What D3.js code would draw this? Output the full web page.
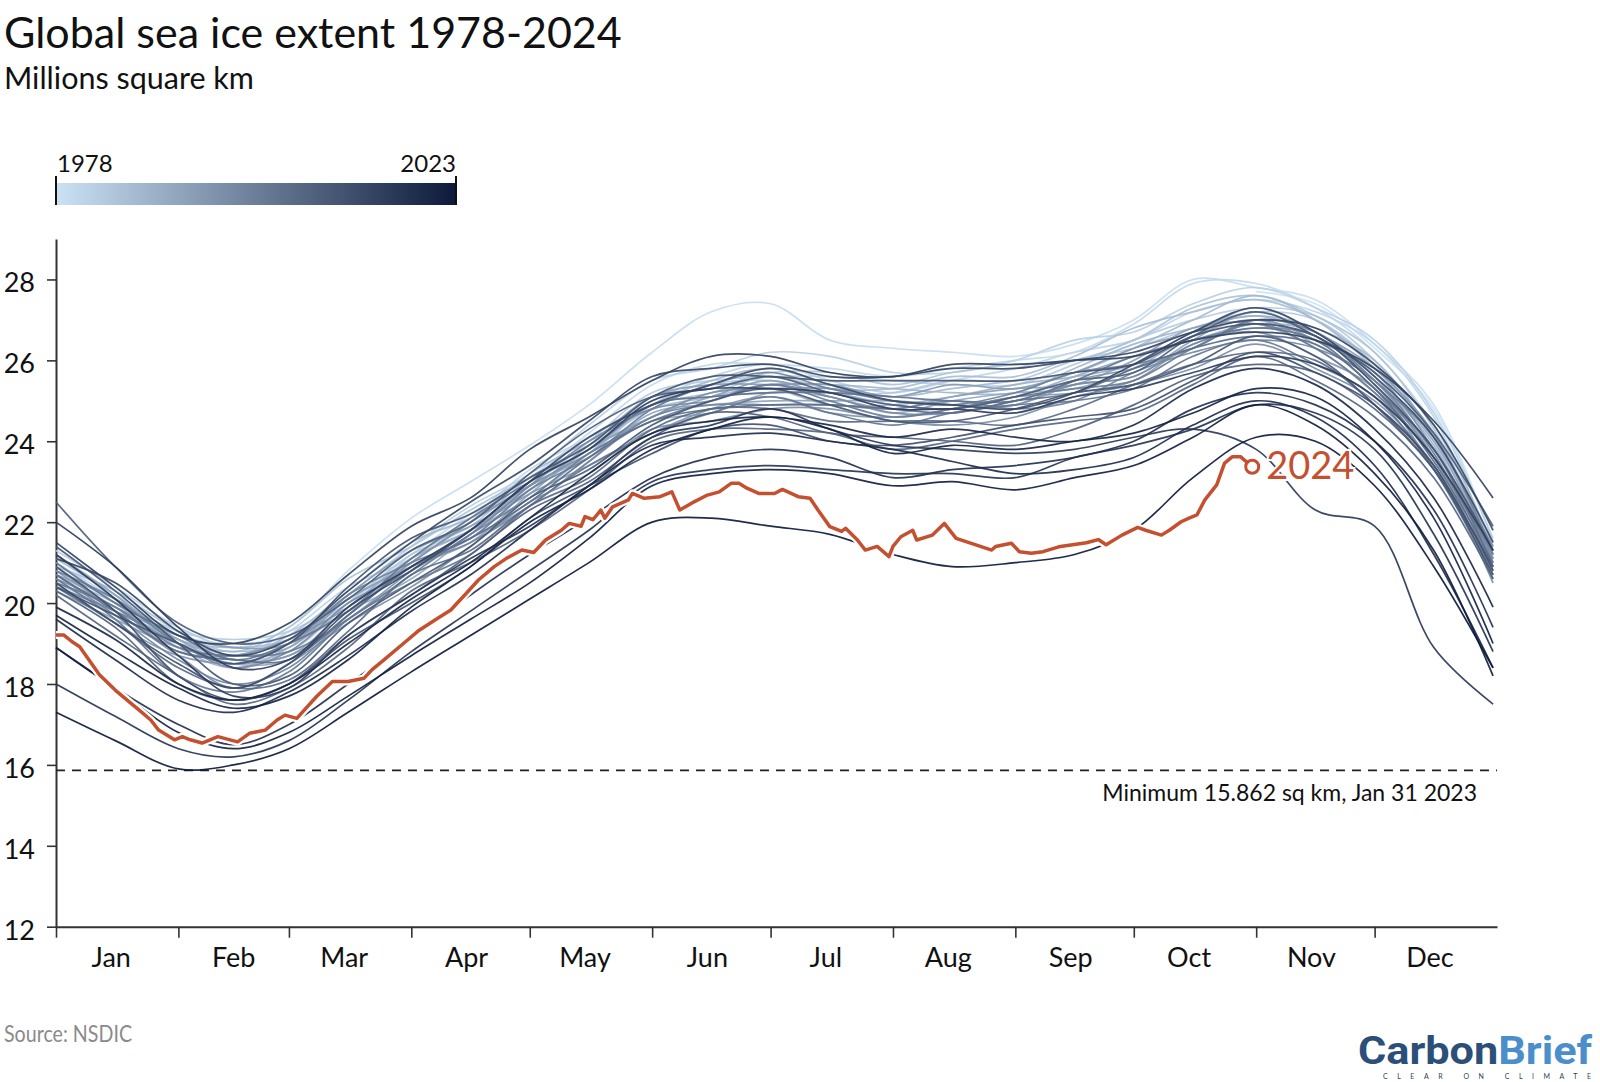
<!DOCTYPE html>
<html><head><meta charset="utf-8">
<script src="https://cdn.jsdelivr.net/npm/d3@7"></script>
<style>
body{margin:0;background:#fff;}
svg text{font-family:Lato,"Noto Sans",sans-serif;}
</style></head><body>
<svg id="chart" width="1600" height="1082"></svg>
<script>
// ---------- DATA ----------
const sampleDays = [0,15,31,45,59,74,90,105,120,135,151,166,181,196,212,227,243,258,273,288,304,319,334,349,364];
const monthLabels = ["Jan","Feb","Mar","Apr","May","Jun","Jul","Aug","Sep","Oct","Nov","Dec"];
const monthStarts = [0,31,59,90,120,151,181,212,243,273,304,334];
const monthMids = [14,45,73,104,134,165,195,226,257,287,318,348];
const yTicks = [12,14,16,18,20,22,24,26,28];
const minimumValue = 15.862;
const minimumLabel = "Minimum 15.862 sq km, Jan 31 2023";

const y1978 = [null,null,null,null,null,null,null,null,null,null,null,null,null,null,null,null,null,null,null,null,27.7,27.4,26.3,24.8,21.5];
const y1979 = [21.1,20.2,19.4,18.9,19.4,20.8,22.1,23.0,23.9,24.9,26.2,27.2,27.4,26.5,26.3,26.2,26.1,26.4,27.0,28.0,27.8,27.5,26.4,24.9,21.5];
const y1980 = [20.9,20.0,19.2,19.0,19.2,20.0,21.2,22.2,23.1,24.2,25.4,25.9,25.9,25.8,25.6,25.8,26.0,26.2,26.9,27.9,27.9,27.3,26.2,24.4,21.4];
const y1981 = [21.0,20.1,19.0,18.7,19.3,20.4,21.1,22.1,23.3,24.1,25.0,25.6,25.9,25.5,25.2,25.5,25.8,26.2,26.5,27.2,27.5,27.2,26.4,24.6,21.2];
const y1982 = [21.3,20.4,19.4,18.9,19.1,20.2,21.4,22.4,23.2,24.4,25.5,25.8,26.2,26.1,25.7,25.7,26.0,26.5,26.7,27.4,27.8,27.3,26.5,24.7,21.6];
const y1983 = [20.8,20.1,19.3,19.1,19.3,20.1,21.0,22.0,22.9,24.0,25.2,25.5,25.6,25.6,25.5,25.4,25.4,25.9,26.5,27.0,27.3,27.1,26.0,24.1,21.1];
const y1984 = [20.5,19.8,19.1,18.6,18.8,20.0,21.2,21.9,23.1,23.9,24.8,25.4,25.5,25.2,25.2,25.5,25.5,26.0,26.3,26.8,27.2,27.0,25.9,24.0,20.8];
const y1985 = [20.9,20.3,19.3,18.8,19.4,20.6,21.4,22.3,23.1,23.8,25.1,25.3,25.7,25.7,25.4,25.7,25.9,26.0,26.5,27.3,27.6,27.1,26.2,24.3,21.3];
const y1986 = [21.1,20.2,19.1,18.9,19.1,19.9,21.1,21.8,23.0,24.1,24.9,25.2,25.6,25.3,25.3,25.6,25.6,26.1,26.8,27.2,27.5,27.0,25.8,24.2,21.1];
const y1987 = [20.7,20.0,19.2,18.7,19.2,20.3,21.5,22.1,22.9,23.7,24.9,25.5,25.8,25.4,25.1,25.3,25.5,25.7,26.3,27.0,27.6,27.0,25.9,24.4,21.4];
const y1988 = [20.6,19.7,19.0,18.8,19.0,19.8,21.0,22.0,23.2,24.0,24.8,25.1,25.4,25.4,25.3,25.2,25.2,25.8,26.4,26.8,27.1,26.8,26.0,24.1,21.0];
const y1989 = [21.0,20.0,18.9,18.4,18.9,20.1,20.9,21.6,22.8,23.8,24.6,25.2,25.3,24.9,24.9,25.1,25.4,25.6,25.9,26.7,27.1,26.6,25.5,23.9,20.9];
const y1990 = [20.4,19.8,19.1,18.6,18.7,19.9,21.1,21.8,22.6,23.7,24.9,25.1,25.2,25.2,24.9,24.8,25.1,25.6,26.1,26.5,26.9,26.7,25.6,23.7,21.1];
const y1991 = [20.7,20.1,19.1,18.5,19.0,19.8,20.6,21.7,22.9,23.6,24.5,24.7,25.2,25.1,24.7,25.0,25.2,25.3,25.8,26.6,27.0,26.4,25.5,24.0,21.2];
const y1992 = [21.2,20.2,19.0,18.5,18.6,19.7,20.9,21.6,22.4,23.5,24.7,24.9,25.0,25.0,25.0,24.9,24.9,25.4,25.6,26.5,27.2,26.6,25.5,23.6,20.7];
const y1993 = [20.3,19.6,18.9,18.7,18.9,20.1,20.9,21.5,22.7,23.8,24.6,25.1,25.5,25.1,24.8,25.1,25.3,25.4,26.0,26.8,26.9,26.3,25.2,23.8,21.0];
const y1994 = [20.8,19.9,19.2,18.9,19.0,20.2,21.3,21.9,22.8,23.9,25.1,25.4,25.4,25.4,25.1,25.4,25.3,25.7,26.3,26.7,27.3,26.7,25.8,24.2,21.2];
const y1995 = [20.5,19.5,18.7,18.5,18.7,19.6,20.8,21.8,22.7,23.4,24.2,24.8,25.1,24.7,24.6,24.8,25.1,25.2,25.5,26.4,26.7,26.1,25.3,23.3,20.7];
const y1996 = [20.6,19.9,18.8,18.7,19.1,19.9,21.0,22.0,22.9,23.7,24.6,25.2,25.3,25.3,25.0,24.9,24.9,25.5,25.8,26.3,27.0,26.5,25.7,23.8,21.4];
const y1997 = [20.9,19.8,18.7,17.9,18.5,19.5,20.4,21.4,22.5,23.2,24.3,24.5,24.8,24.8,24.5,24.4,24.6,25.1,25.4,25.8,26.4,25.8,25.0,23.4,20.5];
const y1998 = [20.4,19.8,19.0,18.4,18.8,20.0,20.8,21.7,22.9,24.0,24.8,25.0,25.4,25.1,24.7,24.7,25.0,25.4,25.6,26.4,26.8,26.6,25.4,23.6,21.1];
const y1999 = [20.7,19.7,18.6,18.0,18.4,19.7,20.9,21.5,22.4,23.5,24.6,24.9,24.9,24.9,24.8,25.0,24.8,25.0,25.7,26.2,26.5,26.3,25.5,23.7,20.8];
const y2000 = [20.8,20.1,19.0,18.5,19.0,20.2,21.0,21.6,22.8,23.6,24.8,25.4,25.7,25.3,25.0,24.9,25.2,25.7,25.9,26.3,27.0,26.7,25.5,24.1,21.3];
const y2001 = [20.5,19.9,18.9,18.7,18.8,19.6,20.7,21.7,22.6,23.7,24.5,25.0,25.4,25.0,24.6,24.8,25.1,25.3,25.5,26.3,26.9,26.3,25.2,23.6,21.2];
const y2002 = [20.6,19.6,18.2,17.8,18.3,19.6,20.5,21.2,22.4,23.4,24.2,24.7,25.1,24.7,24.4,24.7,24.9,25.0,25.3,26.1,26.5,25.9,25.1,23.3,20.9];
const y2003 = [21.0,20.0,19.2,18.6,19.0,19.8,21.1,22.1,23.0,23.8,24.9,25.1,25.2,25.2,25.1,25.0,25.0,25.5,26.1,26.5,26.8,26.5,25.3,23.8,20.9];
const y2004 = [20.7,19.8,18.8,18.6,18.6,19.7,20.9,21.6,22.5,23.6,24.5,24.8,24.9,24.9,24.8,24.7,25.0,25.2,25.8,26.3,26.6,26.4,25.3,23.5,21.0];
const y2005 = [20.4,19.5,18.4,17.9,18.1,19.3,20.7,21.3,22.4,23.1,24.3,24.8,24.8,24.5,24.5,24.5,24.4,24.8,25.4,25.9,26.2,26.0,24.9,23.4,20.6];
const y2006 = [20.2,19.2,18.2,17.5,17.9,18.9,20.3,21.0,21.8,22.8,24.0,24.3,24.3,24.2,23.8,24.0,24.3,24.5,24.7,25.4,26.1,25.5,24.6,23.1,20.6];
const y2007 = [20.3,19.4,18.0,17.6,18.0,19.2,20.2,21.2,22.3,23.0,24.1,24.7,24.6,24.2,24.1,24.0,23.9,24.3,24.9,25.6,25.9,25.7,24.8,23.3,20.9];
const y2008 = [22.5,20.9,19.5,19.0,19.2,20.1,21.3,22.0,23.2,24.3,25.1,25.3,25.6,25.2,24.9,24.8,25.1,25.5,25.7,26.6,27.2,26.6,25.7,24.2,21.9];
const y2009 = [21.4,20.3,19.0,18.0,18.2,19.5,20.5,21.4,22.6,23.3,24.4,25.0,25.3,24.9,24.5,24.5,24.8,25.2,25.4,25.9,26.6,26.1,24.9,23.3,20.7];
const y2010 = [20.4,19.7,19.0,18.5,19.0,20.4,21.6,22.2,23.1,23.9,25.1,25.6,25.6,25.5,25.5,25.5,25.5,25.7,25.9,26.6,26.9,26.6,25.4,23.8,21.3];
const y2011 = [20.9,19.8,18.2,17.6,18.0,19.1,20.0,20.9,22.1,22.9,23.7,24.3,24.4,24.0,23.9,24.1,24.4,24.6,24.8,25.5,26.2,25.7,24.9,23.4,20.8];
const y2012 = [20.5,19.5,18.5,17.9,18.5,19.8,20.8,21.8,23.0,24.1,24.9,25.4,25.8,25.4,25.0,24.9,24.8,25.2,25.9,26.7,27.3,26.7,25.6,24.1,21.5];
const y2013 = [21.1,20.5,19.3,18.7,19.1,20.3,21.5,22.5,23.4,24.5,25.6,25.8,25.9,25.6,25.6,25.8,25.8,26.0,26.2,26.7,27.0,26.8,25.9,24.4,21.8];
const y2014 = [21.5,20.4,19.2,19.0,19.5,20.7,21.9,22.6,23.8,24.6,25.5,26.1,26.1,25.7,25.6,25.9,25.9,26.0,26.1,26.5,26.7,26.5,25.8,24.5,22.6];
const y2015 = [22.0,20.9,19.4,18.4,18.6,19.9,20.9,21.8,23.0,23.8,25.0,25.3,25.3,25.2,24.8,24.8,24.7,25.1,25.3,25.7,26.1,25.9,25.1,23.6,21.3];
const y2016 = [21.2,20.1,18.7,17.7,17.9,19.2,20.2,21.1,21.9,22.9,24.1,24.4,24.8,24.3,23.9,23.8,23.7,23.8,24.1,24.3,23.8,22.3,21.9,18.9,17.5];
const y2017 = [18.0,17.2,16.4,16.2,16.6,17.6,18.8,19.8,20.8,21.8,23.0,23.3,23.4,23.3,23.2,23.2,23.1,23.6,23.9,24.3,24.9,24.7,23.8,21.7,18.8];
const y2018 = [18.9,17.9,17.0,16.5,17.0,18.0,19.1,20.2,21.2,22.1,23.1,23.6,23.8,23.6,23.1,23.3,23.4,23.6,24.0,24.8,25.2,24.9,24.0,22.3,19.4];
const y2019 = [19.6,18.6,17.6,17.3,17.8,18.7,19.8,20.7,21.8,22.9,23.9,24.1,24.2,24.0,23.8,23.5,23.2,23.3,23.6,24.4,25.0,24.6,23.4,21.2,18.4];
const y2020 = [19.9,19.1,18.0,17.6,18.0,19.0,20.1,21.0,22.1,23.2,24.2,24.5,24.6,24.4,24.1,24.3,24.1,24.0,24.4,25.3,25.8,25.4,24.3,22.6,19.9];
const y2021 = [19.7,18.8,17.9,17.4,17.7,18.6,19.9,20.9,22.0,22.8,23.8,24.3,24.6,24.3,23.7,23.9,23.8,24.0,24.2,24.7,25.3,25.1,24.0,22.1,19.0];
const y2022 = [18.9,17.9,16.8,16.4,16.8,17.7,18.7,19.6,20.5,21.6,22.9,23.2,23.3,23.2,22.9,23.0,22.8,23.1,23.4,24.1,24.9,24.4,23.2,21.3,18.2];
const y2023 = [17.3,16.6,15.9,16.0,16.4,17.3,18.3,19.2,20.1,21.0,22.0,22.1,21.9,21.7,21.2,20.9,21.0,21.2,21.8,23.1,24.1,24.0,22.9,20.9,18.4];

const days2024 = [0,2,4,6,11,15,19,21,24,26,30,32,34,37,41,46,49,53,56,58,61,66,70,74,78,80,83,88,92,96,100,104,107,111,114,118,121,124,128,130,133,134,136,138,139,141,145,146,149,153,156,158,161,165,168,171,173,175,178,182,184,188,191,193,196,199,200,203,205,208,211,212,214,217,218,222,225,228,233,237,238,242,244,247,250,254,261,264,266,270,274,276,280,282,285,287,289,291,294,296,298,300,303];
const ext2024 = [19.21,19.21,19.05,18.92,18.23,17.85,17.52,17.36,17.11,16.86,16.62,16.70,16.62,16.54,16.70,16.57,16.78,16.86,17.11,17.23,17.15,17.69,18.06,18.06,18.14,18.35,18.59,19.00,19.33,19.58,19.83,20.25,20.57,20.90,21.10,21.31,21.25,21.56,21.80,21.97,21.90,22.14,22.06,22.30,22.10,22.38,22.55,22.71,22.59,22.63,22.75,22.30,22.47,22.67,22.75,22.96,22.96,22.84,22.71,22.71,22.81,22.63,22.59,22.30,21.89,21.77,21.85,21.56,21.31,21.40,21.15,21.40,21.64,21.80,21.56,21.68,21.97,21.60,21.44,21.31,21.40,21.48,21.27,21.23,21.27,21.39,21.49,21.57,21.44,21.68,21.87,21.80,21.68,21.80,22.01,22.10,22.18,22.55,22.92,23.46,23.62,23.62,23.37];

const yearSeries = [
  [1978,y1978],[1979,y1979],[1980,y1980],[1981,y1981],[1982,y1982],[1983,y1983],[1984,y1984],[1985,y1985],
  [1986,y1986],[1987,y1987],[1988,y1988],[1989,y1989],[1990,y1990],[1991,y1991],[1992,y1992],[1993,y1993],
  [1994,y1994],[1995,y1995],[1996,y1996],[1997,y1997],[1998,y1998],[1999,y1999],[2000,y2000],[2001,y2001],
  [2002,y2002],[2003,y2003],[2004,y2004],[2005,y2005],[2006,y2006],[2007,y2007],[2008,y2008],[2009,y2009],
  [2010,y2010],[2011,y2011],[2012,y2012],[2013,y2013],[2014,y2014],[2015,y2015],[2016,y2016],[2017,y2017],
  [2018,y2018],[2019,y2019],[2020,y2020],[2021,y2021],[2022,y2022],[2023,y2023]
];

// ---------- CHART ----------
const svg = d3.select("#chart");
svg.append("rect").attr("width",1600).attr("height",1082).attr("fill","#fff");

const x = d3.scaleLinear().domain([0,365]).range([56,1497]);
const y = d3.scaleLinear().domain([12,29]).range([926.7,239]);
const color = d3.scaleSequential(d3.interpolateRgb("#cbe2f5","#0d1a3b")).domain([1978,2023]);
const RED = "#c4502f";

// titles
svg.append("text").attr("x",4).attr("y",48).attr("font-size",43).attr("fill","#111").text("Global sea ice extent 1978-2024");
svg.append("text").attr("x",4).attr("y",89).attr("font-size",30.5).attr("fill","#111").text("Millions square km");

// legend
const defs = svg.append("defs");
const grad = defs.append("linearGradient").attr("id","yearGrad").attr("x1","0%").attr("x2","100%");
d3.range(0,1.0001,0.1).forEach(t => grad.append("stop").attr("offset",(t*100)+"%").attr("stop-color",color(1978+45*t)));
svg.append("rect").attr("x",56).attr("y",183).attr("width",400).attr("height",22).attr("fill","url(#yearGrad)");
[56,456].forEach(xx => svg.append("line").attr("x1",xx).attr("x2",xx).attr("y1",176).attr("y2",205).attr("stroke","#111").attr("stroke-width",2));
svg.append("text").attr("x",57).attr("y",172).attr("font-size",24).attr("fill","#111").text("1978");
svg.append("text").attr("x",456).attr("y",172).attr("font-size",24).attr("fill","#111").attr("text-anchor","end").text("2023");

// axes
const yAxis = d3.axisLeft(y).tickValues(yTicks).tickSize(9).tickPadding(12).tickSizeOuter(0);
const gy = svg.append("g").attr("transform","translate(56,0)").call(yAxis);
gy.select(".domain").attr("stroke","#333").attr("stroke-width",2);
gy.selectAll(".tick line").attr("stroke","#333").attr("stroke-width",1.6);
gy.selectAll(".tick text").attr("font-size",27).attr("fill","#111").attr("dy","0.46em").style("font-family","Lato, 'Noto Sans', sans-serif");

const xAxis = d3.axisBottom(x).tickValues(monthStarts).tickSize(11).tickFormat("").tickSizeOuter(0);
const gx = svg.append("g").attr("transform","translate(0,926.7)").call(xAxis);
gx.select(".domain").attr("stroke","#333").attr("stroke-width",2);
gx.selectAll(".tick line").attr("stroke","#333").attr("stroke-width",1.6);
svg.append("g").selectAll("text").data(monthLabels).join("text")
  .attr("x",(d,i)=>x(monthMids[i])).attr("y",967).attr("text-anchor","middle")
  .attr("font-size",27).attr("fill","#111").text(d=>d);

// minimum line
svg.append("line").attr("x1",x(0)).attr("x2",x(365)).attr("y1",y(minimumValue)).attr("y2",y(minimumValue))
  .attr("stroke","#222").attr("stroke-width",1.8).attr("stroke-dasharray","9,7");
svg.append("text").attr("x",1477).attr("y",801).attr("text-anchor","end").attr("font-size",23).attr("fill","#111").text(minimumLabel);

// year lines
const lineGen = d3.line().defined(d=>d[1]!=null).x(d=>x(d[0])).y(d=>y(d[1])).curve(d3.curveCatmullRom.alpha(0.5));
svg.append("g").selectAll("path").data(yearSeries).join("path")
  .attr("fill","none").attr("stroke",d=>color(d[0])).attr("stroke-width",1.7).attr("stroke-opacity",0.92)
  .attr("stroke-linejoin","round")
  .attr("d",d=>lineGen(sampleDays.map((day,i)=>[day,d[1][i]])));

// 2024
const pts24 = days2024.map((d,i)=>[d,ext2024[i]]);
const line24 = d3.line().x(d=>x(d[0])).y(d=>y(d[1]));
svg.append("path").attr("d",line24(pts24)).attr("fill","none").attr("stroke","#fff").attr("stroke-width",8).attr("stroke-linejoin","round");
svg.append("path").attr("d",line24(pts24)).attr("fill","none").attr("stroke",RED).attr("stroke-width",3.5).attr("stroke-linejoin","round");
const last = pts24[pts24.length-1];
svg.append("circle").attr("cx",x(last[0])).attr("cy",y(last[1])).attr("r",6.5).attr("fill","#fff").attr("stroke",RED).attr("stroke-width",3);
svg.append("text").attr("x",x(last[0])+14).attr("y",y(last[1])+12).attr("font-size",38).attr("fill",RED)
  .attr("stroke","#fff").attr("stroke-width",4).attr("paint-order","stroke").text("2024");

// footer
svg.append("text").attr("x",4).attr("y",1042).attr("font-size",24).attr("fill","#8a8a8a")
  .attr("textLength",128).attr("lengthAdjust","spacingAndGlyphs").text("Source: NSDIC");
const logo = svg.append("text").attr("x",1358).attr("y",1064).attr("font-size",39).attr("font-weight",700)
  .attr("textLength",234).attr("lengthAdjust","spacingAndGlyphs")
  .style("font-family","'Liberation Sans Narrow','Roboto',sans-serif");
logo.append("tspan").attr("fill","#2b4f78").text("Carbon");
logo.append("tspan").attr("fill","#4a8fcb").text("Brief");
svg.append("text").attr("x",1383).attr("y",1078.5).attr("font-size",7).attr("fill","#2b3f5a")
  .attr("textLength",208).attr("lengthAdjust","spacing").text("CLEAR ON CLIMATE");
</script>
</body></html>
